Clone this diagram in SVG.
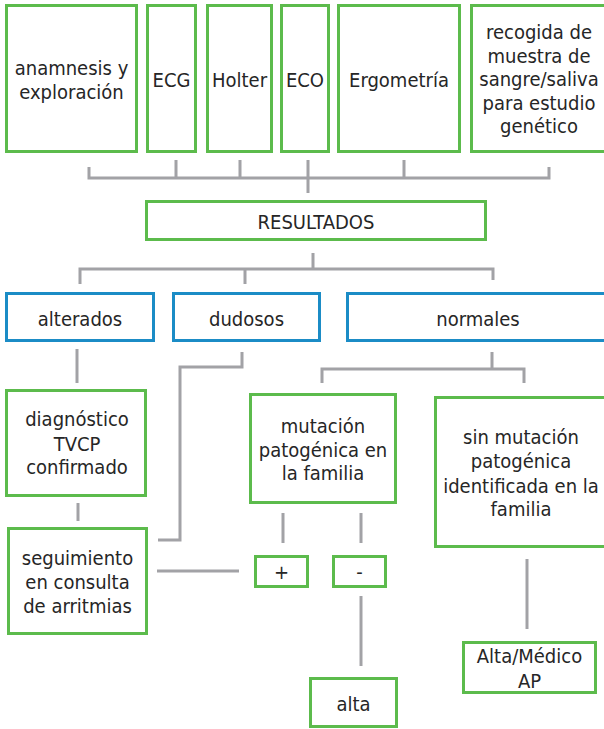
<svg xmlns="http://www.w3.org/2000/svg" width="604" height="729" viewBox="0 0 604 729">
<style>
.g{fill:#fff;stroke:#5cbb4c;stroke-width:3}
.b{fill:#fff;stroke:#1b8cc6;stroke-width:3}
.c{fill:none;stroke:#a2a2a6;stroke-width:3}
text{font-family:"DejaVu Sans Condensed","DejaVu Sans","Liberation Sans",sans-serif;font-stretch:condensed;font-size:20px;fill:#262626;text-anchor:middle}
</style>
<rect width="604" height="729" fill="#fff"/>
<g id="connectors">
<path class="c" d="M89,167V178H549V167M176,160V178M240,160V178M308,160V193M404,160V178"/>
<path class="c" d="M313,253V269M80,284V269H493V280M245,269V284"/>
<path class="c" d="M77,349V383"/>
<path class="c" d="M242,352V367H180V540H158"/>
<path class="c" d="M492,352V369M322,383V369H524V383"/>
<path class="c" d="M78,503V521"/>
<path class="c" d="M283,513V543M361,513V543"/>
<path class="c" d="M157,571H239"/>
<path class="c" d="M361,596V666"/>
<path class="c" d="M527,559V629"/>
</g>
<g id="anamnesis"><rect class="g" x="6.5" y="5.5" width="130" height="146"/><text x="71.5" y="75">anamnesis y</text><text x="71.5" y="99">exploración</text></g>
<g id="ecg"><rect class="g" x="147.5" y="5.5" width="48" height="146"/><text x="171.5" y="87">ECG</text></g>
<g id="holter"><rect class="g" x="207.5" y="5.5" width="64" height="146"/><text x="239.5" y="87">Holter</text></g>
<g id="eco"><rect class="g" x="281.5" y="5.5" width="47" height="146"/><text x="305" y="87">ECO</text></g>
<g id="ergometria"><rect class="g" x="338.5" y="5.5" width="121" height="146"/><text x="399" y="87">Ergometría</text></g>
<g id="recogida"><rect class="g" x="471.5" y="5.5" width="140" height="146"/><text x="539" y="39">recogida de</text><text x="539" y="63">muestra de</text><text x="539" y="86">sangre/saliva</text><text x="539" y="110">para estudio</text><text x="539" y="133">genético</text></g>
<g id="resultados"><rect class="g" x="146.5" y="201.5" width="339" height="38"/><text x="316" y="229">RESULTADOS</text></g>
<g id="alterados"><rect class="b" x="6.5" y="293.5" width="147" height="47"/><text x="80" y="326">alterados</text></g>
<g id="dudosos"><rect class="b" x="173.5" y="293.5" width="146" height="47"/><text x="246.5" y="326">dudosos</text></g>
<g id="normales"><rect class="b" x="347.5" y="293.5" width="270" height="47"/><text x="478" y="326">normales</text></g>
<g id="diagnostico"><rect class="g" x="6.5" y="390.5" width="139" height="105"/><text x="77" y="426">diagnóstico</text><text x="77" y="451">TVCP</text><text x="77" y="474">confirmado</text></g>
<g id="mutacion"><rect class="g" x="250.5" y="394.5" width="145" height="108"/><text x="323" y="433">mutación</text><text x="323" y="457">patogénica en</text><text x="323" y="480">la familia</text></g>
<g id="sin-mutacion"><rect class="g" x="435.5" y="397.5" width="180" height="149"/><text x="521" y="444">sin mutación</text><text x="521" y="468">patogénica</text><text x="521" y="493">identificada en la</text><text x="521" y="516">familia</text></g>
<g id="seguimiento"><rect class="g" x="8.5" y="528.5" width="138" height="105"/><text x="77.5" y="565">seguimiento</text><text x="77.5" y="589">en consulta</text><text x="77.5" y="613">de arritmias</text></g>
<g id="positivo"><rect class="g" x="255.5" y="556.5" width="52" height="30"/><text x="281.5" y="579">+</text></g>
<g id="negativo"><rect class="g" x="333.5" y="556.5" width="52" height="30"/><text x="359.5" y="579">-</text></g>
<g id="alta"><rect class="g" x="310.5" y="678.5" width="86" height="48"/><text x="353.5" y="711">alta</text></g>
<g id="alta-medico"><rect class="g" x="463.5" y="642.5" width="132" height="50"/><text x="529.5" y="663">Alta/Médico</text><text x="529.5" y="688">AP</text></g>
</svg>
